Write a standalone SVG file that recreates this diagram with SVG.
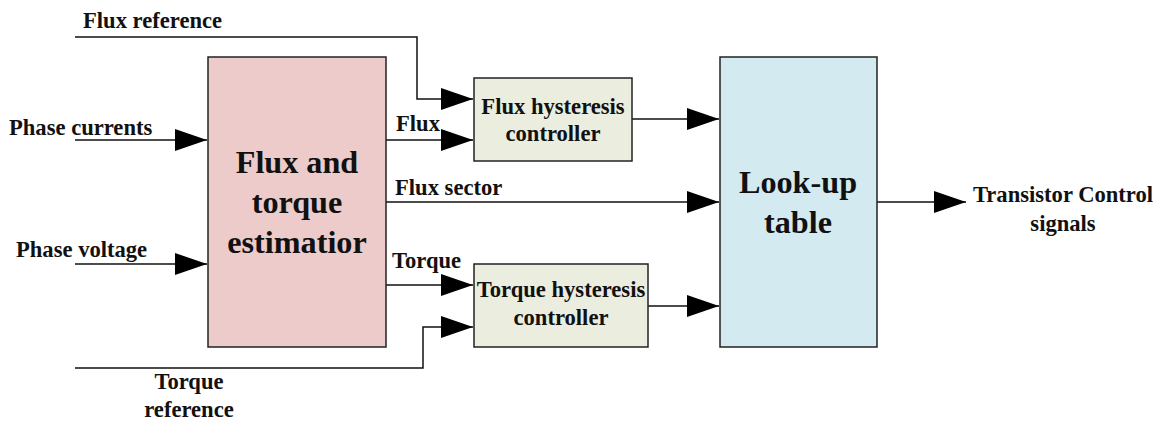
<svg xmlns="http://www.w3.org/2000/svg" width="1168" height="425" viewBox="0 0 1168 425">
<style>
.box{stroke:#222;stroke-width:1.5}
.est{fill:#eccbca}
.hyst{fill:#ebeddf}
.lut{fill:#d3eaf0}
.w{fill:none;stroke:#111;stroke-width:1.5}
.s{font-size:22.6px}
.b{font-size:32.2px}
.m{text-anchor:middle}
</style>
<defs>
<marker id="ah" markerUnits="userSpaceOnUse" markerWidth="32" markerHeight="24" refX="32" refY="12" orient="auto">
<path d="M0,1 L32,12 L0,23 Z" fill="#000"/>
</marker>
</defs>
<rect width="1168" height="425" fill="#fff"/>
<g font-family="'Liberation Serif', 'Times New Roman', Times, serif" font-weight="bold" fill="#111">
<g id="connectors">
<polyline class="w" points="75,37 417,37 417,99 473,99" marker-end="url(#ah)"/>
<line class="w" x1="75" y1="140" x2="207" y2="140" marker-end="url(#ah)"/>
<line class="w" x1="75" y1="264" x2="207" y2="264" marker-end="url(#ah)"/>
<line class="w" x1="386" y1="140" x2="473" y2="140" marker-end="url(#ah)"/>
<line class="w" x1="386" y1="202" x2="719" y2="202" marker-end="url(#ah)"/>
<line class="w" x1="386" y1="285" x2="473" y2="285" marker-end="url(#ah)"/>
<polyline class="w" points="75,368 423,368 423,327 473,327" marker-end="url(#ah)"/>
<line class="w" x1="632" y1="119" x2="719" y2="119" marker-end="url(#ah)"/>
<line class="w" x1="648" y1="306" x2="719" y2="306" marker-end="url(#ah)"/>
<line class="w" x1="877" y1="202" x2="966" y2="202" marker-end="url(#ah)"/>
<text class="s" x="83" y="28">Flux reference</text>
<text class="s" x="9" y="135">Phase currents</text>
<text class="s" x="16" y="257">Phase voltage</text>
<text class="s m" x="189" y="389">Torque</text>
<text class="s m" x="189" y="417">reference</text>
<text class="s" x="396" y="131">Flux</text>
<text class="s" x="395" y="195">Flux sector</text>
<text class="s" x="392" y="268">Torque</text>
<text class="s m" x="1063" y="202">Transistor Control</text>
<text class="s m" x="1063" y="231">signals</text>
</g>
<g id="estimator">
<rect class="box est" x="208" y="57" width="178" height="290"/>
<text class="b m" x="297" y="173">Flux and</text>
<text class="b m" x="297" y="213">torque</text>
<text class="b m" x="297" y="253">estimatior</text>
</g>
<g id="flux-hysteresis">
<rect class="box hyst" x="474" y="78" width="158" height="83"/>
<text class="s m" x="553" y="114">Flux hysteresis</text>
<text class="s m" x="553" y="141">controller</text>
</g>
<g id="torque-hysteresis">
<rect class="box hyst" x="474" y="264" width="174" height="83"/>
<text class="s m" x="561" y="297">Torque hysteresis</text>
<text class="s m" x="561" y="325">controller</text>
</g>
<g id="lookup">
<rect class="box lut" x="720" y="57" width="157" height="290"/>
<text class="b m" x="798" y="193">Look-up</text>
<text class="b m" x="798" y="233">table</text>
</g>
</g>
</svg>
